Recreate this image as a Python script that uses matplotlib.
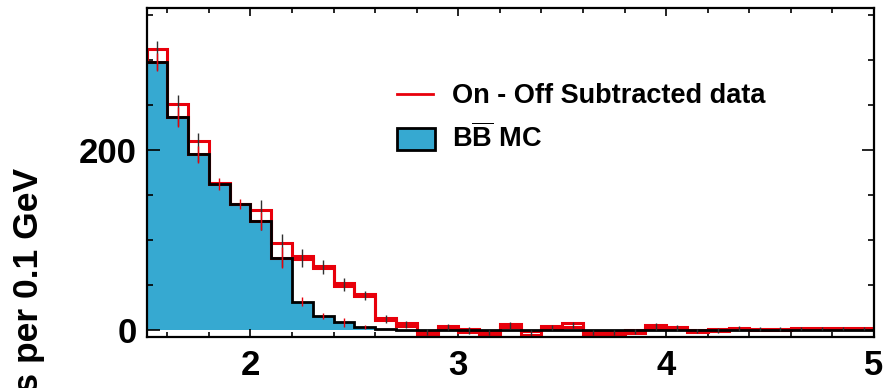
import numpy as np
import matplotlib
matplotlib.use("Agg")
import matplotlib.pyplot as plt
from matplotlib.patches import Rectangle
from matplotlib.lines import Line2D
from matplotlib.ticker import MultipleLocator

plt.rcParams['font.family'] = ['Liberation Sans', 'DejaVu Sans']
plt.rcParams['font.weight'] = 'bold'
plt.rcParams['mathtext.fontset'] = 'custom'
plt.rcParams['mathtext.rm'] = 'Liberation Sans:bold'
plt.rcParams['mathtext.bf'] = 'Liberation Sans:bold'

# ---- data (bins of 0.1 GeV from 1.5 to 5.0) ----
bin_edges = np.round(np.linspace(1.5, 5.0, 36), 2)
data_vals = [304.5, 243.5, 202, 162.5, 139.5, 127, 88, 80, 69.5, 50, 38, 11.7,
             5.5, -3, 2.5, -1, -3, 4.5, -4, 2.5, 5, -3.5, -3, -2.5, 3.4, 1.5,
             -1.5, -1, 1, 0.3, 0.3, 0.9, 0.9, 0.9, 0.9]
data_box = [7, 7, 7, 0.5, 0.5, 6, 8, 1.2, 1.2, 1.2, 1.2, 1.5, 1.5, 1.8, 1.5, 1.5,
            1.5, 1.8, 1.8, 1.5, 1.8, 1.8, 1.5, 1.5, 1.8, 1.2, 1.2, 1.2, 0.5, 0.5,
            0.5, 0.8, 0.8, 0.8, 0.8]
data_err = [16, 17, 16, 0, 0, 16.5, 18.5, 10, 8, 7.5, 5, 4.6, 4, 3.5, 3.5, 3.5,
            3, 3.5, 3, 3, 3.5, 3, 3, 3, 3.5, 3, 2.5, 2.5, 2.5, 2, 2, 2, 2, 2, 2]
mc_vals = [297, 236, 194.5, 162, 139, 120.5, 80, 31, 15, 7.8, 2.5, 0.5,
           0, 0, 0, 0, 0, 0, 0, 0, 0, 0, 0, 0, 0, 0, 0, 0, 0, 0, 0, 0, 0, 0, 0]
mc_err = [10, 11, 9.5, 6.5, 5.5, 10, 12, 5, 3.7, 4.5, 2, 0,
          0, 0, 0, 0, 0, 0, 0, 0, 0, 0, 0, 0, 0, 0, 0, 0, 0, 0, 0, 0, 0, 0, 0]
x_ticklabels = ["2", "3", "4", "5"]
y_ticklabels = ["0", "200"]
legend_labels = ["On - Off Subtracted data", r"B$\overline{\mathrm{B}}$ MC"]

BLUE = '#36A9D1'
RED = '#E8000B'

data = np.array(data_vals, float)
box = np.array(data_box, float)
derr = np.array(data_err, float)
mc = np.array(mc_vals, float)
merr = np.array(mc_err, float)
centers = 0.5 * (bin_edges[:-1] + bin_edges[1:])

W, H = 896, 388
fig = plt.figure(figsize=(W / 100, H / 100), dpi=100)
L, R, T, B = 146.5, 874, 7.5, 336.7
ax = fig.add_axes([L / W, (H - B) / H, (R - L) / W, (B - T) / H])

# MC fill
ax.stairs(mc, bin_edges, fill=True, color=BLUE, baseline=0, zorder=1, lw=0)
# data band (red boxes)
hi = data + box
lo = data - box
ax.stairs(hi, bin_edges, baseline=None, color=RED, lw=2.2, zorder=2)
ax.stairs(lo, bin_edges, baseline=None, color=RED, lw=2.2, zorder=2)
ax.vlines([bin_edges[0], bin_edges[-1]], [lo[0], lo[-1]], [hi[0], hi[-1]],
          color=RED, lw=2.2, zorder=2)
# MC outline
ax.stairs(mc, bin_edges, baseline=None, color='black', lw=2.0, zorder=3)
# error bars
ax.errorbar(centers, data, yerr=derr, fmt='none', ecolor='#303030',
            elinewidth=1.0, capsize=0, zorder=4)
m = merr > 0
ax.errorbar(centers[m], mc[m], yerr=merr[m], fmt='none', ecolor=RED,
            elinewidth=1.0, capsize=0, zorder=4)

ax.set_xlim(1.5, 5.0)
ax.set_ylim(-8.0, 357.8)

ax.xaxis.set_major_locator(MultipleLocator(1.0))
ax.xaxis.set_minor_locator(MultipleLocator(0.2))
ax.yaxis.set_major_locator(MultipleLocator(200))
ax.yaxis.set_minor_locator(MultipleLocator(50))
ax.set_xticks([2, 3, 4, 5])
ax.set_xticklabels(x_ticklabels)
ax.set_yticks([0, 200])
ax.set_yticklabels(y_ticklabels)
ax.tick_params(axis='both', which='both', direction='in', top=True, right=True,
               labelsize=25, width=1.2, color='black')
ax.tick_params(axis='x', which='major', length=6, pad=9)
ax.tick_params(axis='x', which='minor', length=3.5)
ax.tick_params(axis='y', which='major', length=9, pad=7)
ax.tick_params(axis='y', which='minor', length=4.5)
for lab in ax.get_xticklabels() + ax.get_yticklabels():
    lab.set_fontweight('bold')
for s in ax.spines.values():
    s.set_linewidth(1.6)
    s.set_zorder(5)

# legend (drawn manually)
ax.add_line(Line2D([0.3443, 0.3938], [0.7372, 0.7372], transform=ax.transAxes,
                   color=RED, lw=2.0))
ax.text(0.420, 0.709, legend_labels[0], transform=ax.transAxes, fontsize=19.5,
        fontweight='bold', ha='left', va='baseline')
ax.add_patch(Rectangle((0.3443, 0.567), 0.0522, 0.0668, transform=ax.transAxes,
                       facecolor=BLUE, edgecolor='black', lw=2.0))
ax.text(0.420, 0.5753, legend_labels[1], transform=ax.transAxes, fontsize=19.5,
        fontweight='bold', ha='left', va='baseline')

# y-axis title (partly outside the canvas, as in the reference)
fig.text(29 / W, (H - 168) / H, "Events per 0.1 GeV", rotation=90,
         rotation_mode='anchor', ha='right', va='center', fontsize=25.5,
         fontweight='bold')

fig.savefig("out.png", dpi=100)
